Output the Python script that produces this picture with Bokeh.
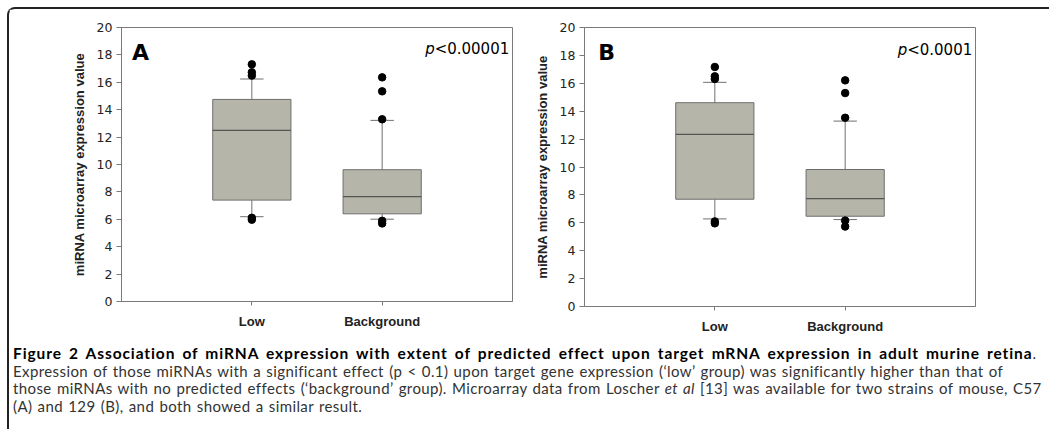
from bokeh.plotting import figure
from bokeh.models import Range1d, FixedTicker, Label, Div, InlineStyleSheet
from bokeh.layouts import row, column
from bokeh.embed import file_html
from bokeh.resources import INLINE

# ---------------- data ----------------
categories = ["Low", "Background"]
y_ticks = [0, 2, 4, 6, 8, 10, 12, 14, 16, 18, 20]

# Panel A (C57)
a_q1 = [7.40, 6.40]
a_median = [12.49, 7.65]
a_q3 = [14.75, 9.62]
a_lower = [6.19, 6.01]
a_upper = [16.24, 13.22]
a_out_low = [17.31, 16.73, 16.49, 6.11, 5.97]
a_out_bg = [16.36, 15.34, 13.30, 5.89, 5.70]
a_pvalue = "<0.00001"

# Panel B (129)
b_q1 = [7.69, 6.47]
b_median = [12.34, 7.74]
b_q3 = [14.61, 9.82]
b_lower = [6.28, 6.23]
b_upper = [16.07, 13.29]
b_out_low = [17.17, 16.50, 16.31, 6.10, 5.96]
b_out_bg = [16.21, 15.30, 13.53, 6.16, 5.73]
b_pvalue = "<0.0001"

BOX_FILL = "#b5b5a9"
BOX_LINE = "#6e6e6e"
WHISK = "#707070"
FRAME = "#7a7a7a"
TXT = "#222222"


def make_panel(letter, letter_x, q1, med, q3, lo, hi, outs, pval, frame_h, mb_left, mb_right, mb_bottom):
    p = figure(frame_width=391, frame_height=frame_h,
               min_border_left=mb_left, min_border_right=mb_right,
               min_border_top=18, min_border_bottom=mb_bottom,
               x_range=Range1d(0, len(categories) + 1), y_range=Range1d(y_ticks[0], y_ticks[-1]),
               output_backend="svg", toolbar_location=None)
    p.xgrid.visible = False
    p.ygrid.visible = False
    p.outline_line_color = FRAME
    p.outline_line_width = 1
    p.background_fill_color = "white"
    p.border_fill_color = "white"

    pos = [i + 1 for i in range(len(categories))]
    bw = 0.6
    cw = 0.09
    # whiskers
    p.segment(x0=pos, y0=q3, x1=pos, y1=hi, line_color=WHISK, line_width=1)
    p.segment(x0=pos, y0=q1, x1=pos, y1=lo, line_color=WHISK, line_width=1)
    # caps
    p.segment(x0=[x - cw for x in pos], y0=hi, x1=[x + cw for x in pos], y1=hi, line_color=WHISK, line_width=1)
    p.segment(x0=[x - cw for x in pos], y0=lo, x1=[x + cw for x in pos], y1=lo, line_color=WHISK, line_width=1)
    # boxes
    p.vbar(x=pos, width=bw, bottom=q1, top=q3, fill_color=BOX_FILL, line_color=BOX_LINE, line_width=1)
    # medians
    p.segment(x0=[x - bw / 2 for x in pos], y0=med, x1=[x + bw / 2 for x in pos], y1=med,
              line_color="#555555", line_width=1.2)
    # outliers
    ox, oy = [], []
    for x, vals in zip(pos, outs):
        ox += [x] * len(vals)
        oy += vals
    p.scatter(x=ox, y=oy, size=7.5, fill_color="black", line_color="black")

    # axes
    p.yaxis.ticker = FixedTicker(ticks=y_ticks)
    p.yaxis.axis_label = "miRNA microarray expression value"
    p.yaxis.axis_label_text_font = "Liberation Sans"
    p.yaxis.axis_label_text_font_style = "bold"
    p.yaxis.axis_label_text_font_size = "13px"
    p.yaxis.axis_label_text_color = TXT
    p.yaxis.axis_label_standoff = 7
    p.yaxis.major_label_text_font = "DejaVu Sans"
    p.yaxis.major_label_text_font_size = "12.5px"
    p.yaxis.major_label_text_color = TXT
    p.yaxis.major_label_standoff = 4
    p.yaxis.major_tick_out = 5
    p.yaxis.major_tick_in = 0
    p.yaxis.minor_tick_line_color = None
    p.yaxis.axis_line_color = FRAME
    p.yaxis.major_tick_line_color = FRAME

    p.xaxis.ticker = FixedTicker(ticks=pos)
    p.xaxis.major_label_overrides = {x: c for x, c in zip(pos, categories)}
    p.xaxis.major_label_text_font = "Liberation Sans"
    p.xaxis.major_label_text_font_style = "bold"
    p.xaxis.major_label_text_font_size = "13px"
    p.xaxis.major_label_text_color = TXT
    p.xaxis.major_label_standoff = 8
    p.xaxis.major_tick_out = 4
    p.xaxis.major_tick_in = 0
    p.xaxis.minor_tick_line_color = None
    p.xaxis.axis_line_color = FRAME
    p.xaxis.major_tick_line_color = FRAME

    # panel letter
    p.add_layout(Label(x=letter_x, y=18.2, text=letter, text_font="DejaVu Sans",
                       text_font_style="bold", text_font_size="22px", text_color="black",
                       text_baseline="alphabetic", text_align="left"))
    # p-value
    xr = len(categories) + 1 - 0.025
    p.add_layout(Label(x=xr, y=18.4, text=pval, text_font="DejaVu Sans",
                       text_font_size="15px", text_color="black",
                       text_baseline="alphabetic", text_align="right"))
    wpx = 15 * (0.838 + 0.318 + 0.636 * (len(pval) - 2))
    p.add_layout(Label(x=xr - wpx / 130.4, y=18.4, text="p", text_font="DejaVu Sans",
                       text_font_style="italic", text_font_size="15px", text_color="black",
                       text_baseline="alphabetic", text_align="right"))
    return p


pa = make_panel("A", 0.08, a_q1, a_median, a_q3, a_lower, a_upper, [a_out_low, a_out_bg], a_pvalue,
                274, 112, 8, 30)
pb = make_panel("B", 0.105, b_q1, b_median, b_q3, b_lower, b_upper, [b_out_low, b_out_bg], b_pvalue,
                279, 64, 69, 25)

caption_html = (
    "<div style=\"font-family:'Lato'; font-size:15px; line-height:17.7px; color:#333; "
    "letter-spacing:0.4px; word-spacing:1px; "
    "white-space:nowrap; padding-top:4px; margin-left:-1px;\">"
    "<span style=\"font-weight:bold; color:#000; font-size:15.5px; letter-spacing:0.9px; "
    "word-spacing:2.5px;\">Figure 2 Association of miRNA expression with extent of "
    "predicted effect upon target mRNA expression in adult murine retina</span>.<br>"
    "Expression of those miRNAs with a significant effect (p &lt; 0.1) upon target gene expression "
    "(\u2018low\u2019 group) was significantly higher than that of<br>"
    "those miRNAs with no predicted effects (\u2018background\u2019 group). Microarray data from Loscher "
    "<i>et al</i> [13] was available for two strains of mouse, C57<br>"
    "(A) and 129 (B), and both showed a similar result."
    "</div>"
)
caption = Div(text=caption_html, width=1036, height=90)

border_css = InlineStyleSheet(css=":host { position: absolute; left: 7px; top: 7px; "
                                  "border: 2px solid #222; border-bottom: none; "
                                  "border-radius: 8px 8px 0 0; background: white; }")
layout = column(row(pa, pb), caption, stylesheets=[border_css])

open("out.html", "w").write(file_html(layout, INLINE))
